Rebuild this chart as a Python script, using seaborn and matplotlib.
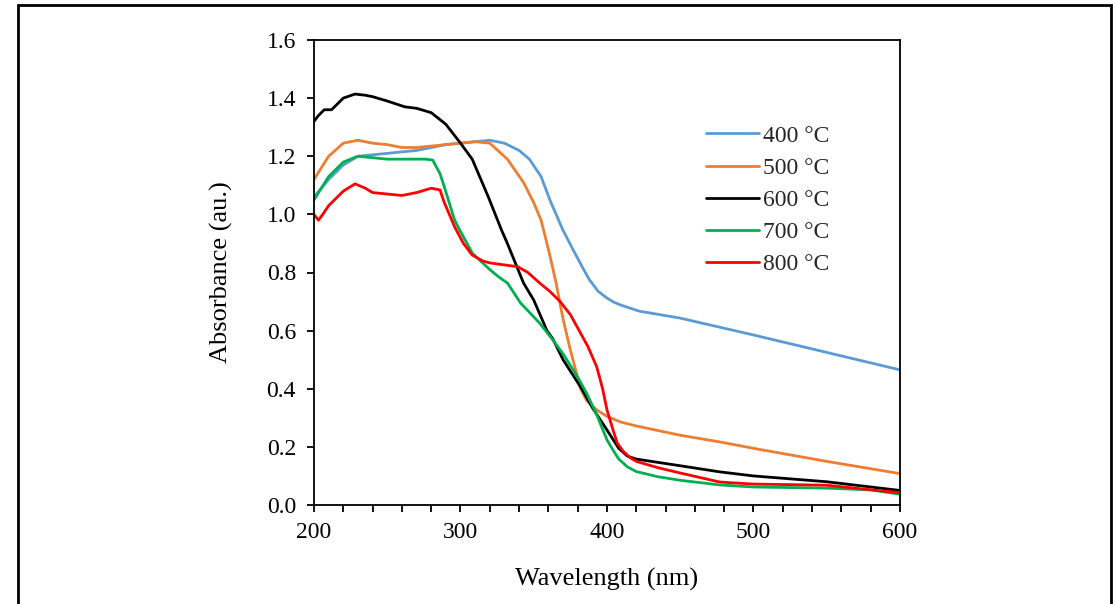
import matplotlib
matplotlib.use("Agg")
from matplotlib import pyplot as plt
from matplotlib.patches import Rectangle
from matplotlib.ticker import MultipleLocator
import pandas as pd
import seaborn as sns

# spectra
wl_400 = [200, 205, 210, 220, 230, 240, 250, 260, 270, 280, 290, 300, 310, 320, 330, 340, 347,
          355, 361, 370, 377, 383, 388, 394, 400, 405, 410, 422, 450, 500, 550, 600]
abs_400 = [1.06, 1.09, 1.12, 1.17, 1.20, 1.205, 1.21, 1.215, 1.22, 1.23, 1.24, 1.245, 1.25, 1.255,
           1.245, 1.22, 1.19, 1.13, 1.05, 0.945, 0.877, 0.82, 0.775, 0.735, 0.712, 0.697, 0.687,
           0.667, 0.643, 0.585, 0.525, 0.465]

wl_500 = [200, 205, 210, 220, 230, 240, 250, 260, 270, 280, 290, 300, 310, 320, 332, 343, 350,
          355, 360, 365, 370, 375, 382, 386, 393, 400, 409, 420, 450, 477, 500, 550, 600]
abs_500 = [1.12, 1.16, 1.20, 1.245, 1.255, 1.245, 1.24, 1.23, 1.23, 1.235, 1.24, 1.245, 1.25,
           1.245, 1.19, 1.11, 1.04, 0.98, 0.88, 0.77, 0.64, 0.533, 0.40, 0.36, 0.327, 0.305,
           0.286, 0.272, 0.24, 0.217, 0.195, 0.15, 0.108]

wl_600 = [200, 203, 207, 212, 220, 228, 235, 240, 250, 262, 270, 280, 290, 300, 308, 319, 328,
          332, 343, 350, 359, 363, 370, 382, 390, 400, 408, 414, 420, 450, 477, 500, 550, 600]
abs_600 = [1.32, 1.34, 1.36, 1.36, 1.40, 1.414, 1.41, 1.405, 1.39, 1.37, 1.365, 1.35, 1.31, 1.245,
           1.19, 1.06, 0.946, 0.90, 0.764, 0.705, 0.60, 0.572, 0.50, 0.406, 0.335, 0.258, 0.195,
           0.168, 0.158, 0.135, 0.114, 0.10, 0.08, 0.05]

wl_700 = [200, 205, 210, 220, 230, 240, 250, 260, 270, 276, 281, 286, 289, 296, 298, 308, 320,
          326, 332, 341, 354, 363, 370, 380, 386, 393, 400, 404, 408, 414, 420, 435, 450, 477,
          500, 550, 580, 600]
abs_700 = [1.05, 1.09, 1.13, 1.18, 1.20, 1.195, 1.19, 1.19, 1.19, 1.19, 1.187, 1.14, 1.094, 0.98,
           0.96, 0.867, 0.81, 0.785, 0.764, 0.695, 0.626, 0.568, 0.52, 0.44, 0.385, 0.31, 0.224,
           0.19, 0.158, 0.131, 0.115, 0.097, 0.085, 0.069, 0.062, 0.058, 0.052, 0.037]

wl_800 = [200, 203, 206, 210, 220, 228, 235, 240, 250, 260, 270, 280, 286, 289, 296, 302, 308,
          315, 320, 330, 339, 346, 354, 361, 368, 375, 381, 387, 393, 397, 400, 404, 407, 411,
          416, 420, 435, 450, 477, 500, 550, 600]
abs_800 = [1.00, 0.98, 1.00, 1.03, 1.08, 1.105, 1.09, 1.075, 1.07, 1.065, 1.075, 1.09, 1.084,
           1.04, 0.957, 0.90, 0.86, 0.84, 0.833, 0.826, 0.82, 0.80, 0.764, 0.735, 0.70, 0.655,
           0.60, 0.545, 0.475, 0.40, 0.327, 0.26, 0.213, 0.185, 0.162, 0.15, 0.128, 0.11, 0.079,
           0.072, 0.068, 0.042]

labels = ["400 °C", "500 °C", "600 °C", "700 °C", "800 °C"]
colors = ["#5B9BD5", "#ED7D31", "#000000", "#00B050", "#FF0000"]

frames = []
for lab, wl, ab in zip(labels,
                       [wl_400, wl_500, wl_600, wl_700, wl_800],
                       [abs_400, abs_500, abs_600, abs_700, abs_800]):
    frames.append(pd.DataFrame({"wavelength": wl, "absorbance": ab, "sample": lab}))
df = pd.concat(frames, ignore_index=True)

sns.set_theme(style="white")
plt.rcParams["font.family"] = ["Liberation Serif", "DejaVu Serif"]

fig = plt.figure(figsize=(11.13, 6.04), dpi=100)
ax = fig.add_axes([314 / 1113, 1 - 505 / 604, (900 - 314) / 1113, (505 - 40) / 604])

sns.lineplot(data=df, x="wavelength", y="absorbance", hue="sample", hue_order=labels,
             palette=colors, linewidth=2.0, sort=True, estimator=None, ax=ax)

ax.set_xlim(200, 600)
ax.set_ylim(0, 1.6)
ax.xaxis.set_major_locator(MultipleLocator(100))
ax.xaxis.set_minor_locator(MultipleLocator(20))
ax.yaxis.set_major_locator(MultipleLocator(0.2))
ax.yaxis.set_major_formatter(plt.FormatStrFormatter("%.1f"))
ax.tick_params(axis="both", which="both", direction="out", length=5, width=1.3,
               color="black", labelsize=17, labelcolor="black")
ax.tick_params(axis="x", which="both", bottom=True, pad=7)
ax.tick_params(axis="y", left=True, pad=8)
for s in ax.spines.values():
    s.set_color("black")
    s.set_linewidth(1.3)

ax.set_xlabel("Wavelength (nm)", fontsize=19, color="black", labelpad=18)
ax.set_ylabel("Absorbance (au.)", fontsize=19, color="black", labelpad=24)

ax.legend(loc="upper left", bbox_to_anchor=(0.669, 0.817), frameon=False, fontsize=17,
          handlelength=2.25, handletextpad=0.15, labelspacing=0.45, borderpad=0,
          borderaxespad=0)

# outer frame of the original picture
fig.patches.append(Rectangle((18 / 1113, -0.1), (1111 - 18) / 1113, 1.1 - 5 / 604,
                             transform=fig.transFigure, fill=False, edgecolor="black",
                             linewidth=2.0, clip_on=False))

fig.savefig("out.png", dpi=100)
